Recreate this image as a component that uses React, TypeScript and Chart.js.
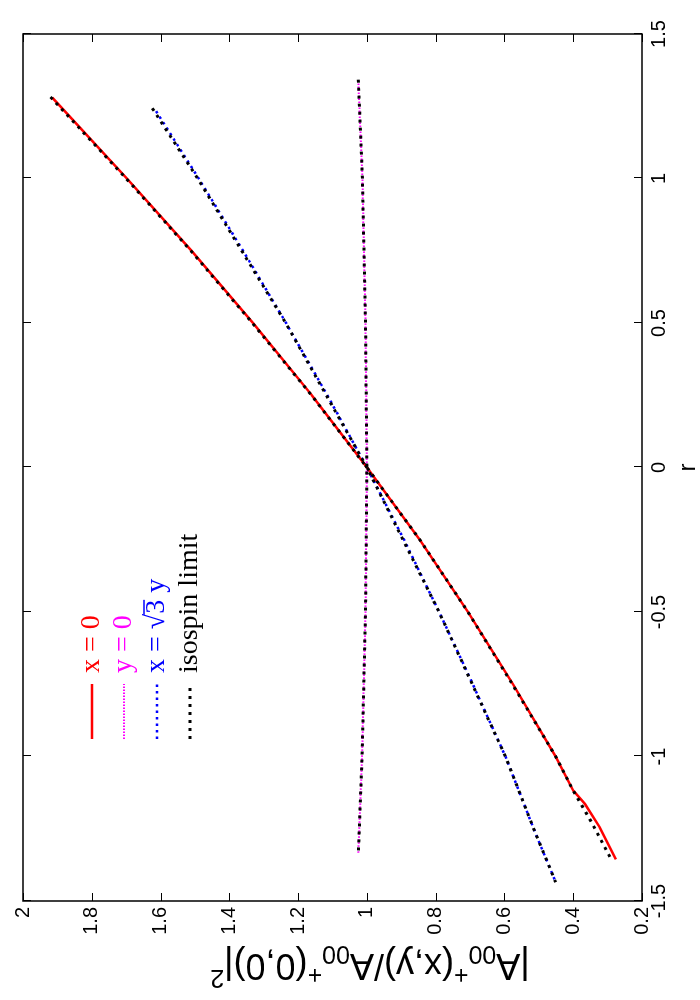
import React, { useEffect, useRef } from "react";
import { Chart, registerables } from "chart.js";

Chart.register(...registerables);

// ---------- data (r on the horizontal axis of the landscape plot) ----------
const rTicks = [-1.5, -1, -0.5, 0, 0.5, 1, 1.5];
const valueTicks = [0.2, 0.4, 0.6, 0.8, 1, 1.2, 1.4, 1.6, 1.8, 2];

const rRed = [1.28, 1.0, 0.75, 0.5, 0.25, 0, -0.25, -0.5, -0.75, -1.0, -1.118, -1.164, -1.245, -1.356];
const valRed = [1.915, 1.698, 1.51, 1.331, 1.16, 1.0, 0.846, 0.706, 0.575, 0.451, 0.4, 0.366, 0.323, 0.276];

const rMag = [1.339, 1.0, 0.5, 0, -0.5, -1.0, -1.336];
const valMag = [1.025, 1.013, 1.004, 1.0, 1.004, 1.014, 1.025];

const rBlue = [1.233, 1.0, 0.75, 0.5, 0.25, 0, -0.25, -0.5, -0.75, -1.0, -1.25, -1.435];
const valBlue = [1.613, 1.489, 1.36, 1.235, 1.115, 1.0, 0.892, 0.79, 0.692, 0.597, 0.515, 0.451];

const rIsoA = [1.282, 1.0, 0.75, 0.5, 0.25, 0, -0.25, -0.5, -0.75, -1.0, -1.118, -1.227, -1.35];
const valIsoA = [1.92, 1.7, 1.512, 1.333, 1.161, 1.0, 0.846, 0.706, 0.577, 0.451, 0.4, 0.347, 0.292];

const rIsoB = [1.243, 1.0, 0.5, 0, -0.5, -1.0, -1.25, -1.435];
const valIsoB = [1.624, 1.492, 1.236, 1.0, 0.79, 0.597, 0.515, 0.451];

const rIsoC = [1.342, 1.0, 0.5, 0, -0.5, -1.0, -1.34];
const valIsoC = [1.025, 1.013, 1.004, 1.0, 1.004, 1.014, 1.025];

const legendLabels = ["x = 0", "y = 0", "x = \u221A3 y", "isospin limit"];
const xTitle = "r";

const FONT_SANS = '"Liberation Sans", Arial, Helvetica, sans-serif';
const FONT_SERIF = '"Liberation Serif", "Times New Roman", serif';

const styles = [
  { color: "#ff0000", width: 2.5, dash: [] as number[] },
  { color: "#ff00ff", width: 2, dash: [1.5, 1.5] },
  { color: "#0000ff", width: 2.5, dash: [2.5, 4] },
  { color: "#000000", width: 3, dash: [3, 5] },
];

function pts(r: number[], v: number[]) {
  return r.map((x, i) => ({ x, y: v[i] }));
}

function ds(label: string, r: number[], v: number[], s: typeof styles[0], order: number) {
  return {
    label,
    data: pts(r, v),
    showLine: true,
    pointRadius: 0,
    borderColor: s.color,
    backgroundColor: s.color,
    borderWidth: s.width,
    borderDash: s.dash,
    borderCapStyle: "butt",
    tension: 0,
    fill: false,
    order,
  };
}

const TICK = 8;

const gnuplotPlugin = {
  id: "gnuplotLook",
  afterDraw(chart: any) {
    const { ctx, chartArea: a, scales } = chart;
    const xs = scales.x;
    const ys = scales.y;
    ctx.save();
    // inward ticks on all four sides
    ctx.strokeStyle = "#000";
    ctx.lineWidth = 1;
    ctx.setLineDash([]);
    ctx.beginPath();
    for (const v of rTicks) {
      const p = Math.round(xs.getPixelForValue(v)) + 0.5;
      ctx.moveTo(p, a.bottom);
      ctx.lineTo(p, a.bottom - TICK);
      ctx.moveTo(p, a.top);
      ctx.lineTo(p, a.top + TICK);
    }
    for (const v of valueTicks) {
      const p = Math.round(ys.getPixelForValue(v)) + 0.5;
      ctx.moveTo(a.left, p);
      ctx.lineTo(a.left + TICK, p);
      ctx.moveTo(a.right, p);
      ctx.lineTo(a.right - TICK, p);
    }
    ctx.stroke();
    // frame
    ctx.lineWidth = 1.5;
    ctx.strokeRect(a.left, a.top, a.right - a.left, a.bottom - a.top);

    // x title
    ctx.fillStyle = "#000";
    ctx.font = `24px ${FONT_SANS}`;
    ctx.textAlign = "center";
    ctx.textBaseline = "middle";
    ctx.fillText(xTitle, (a.left + a.right) / 2, 688);

    // y title with sub/superscripts
    const fs = 36;
    const small = Math.round(fs * 0.7);
    const parts: { t: string; size: number; shift: number }[] = [
      { t: "|A", size: fs, shift: 0 },
      { t: "00", size: small, shift: 0.22 * fs },
      { t: "+", size: small, shift: -0.35 * fs },
      { t: "(x,y)/A", size: fs, shift: 0 },
      { t: "00", size: small, shift: 0.22 * fs },
      { t: "+", size: small, shift: -0.35 * fs },
      { t: "(0,0)|", size: fs, shift: 0 },
      { t: "2", size: small, shift: -0.42 * fs },
    ];
    let total = 0;
    for (const p of parts) {
      ctx.font = `${p.size}px ${FONT_SANS}`;
      total += ctx.measureText(p.t).width;
    }
    ctx.save();
    ctx.translate(33, 370);
    ctx.rotate(-Math.PI / 2);
    ctx.textAlign = "left";
    ctx.textBaseline = "alphabetic";
    let cx = -total / 2;
    for (const p of parts) {
      ctx.font = `${p.size}px ${FONT_SANS}`;
      ctx.fillText(p.t, cx, 0.35 * fs + p.shift);
      cx += ctx.measureText(p.t).width;
    }
    ctx.restore();

    // legend (top-left inside the plot)
    const lx0 = 261;
    const lx1 = 316;
    const tx = 327;
    const rowY = [92, 124, 157, 190];
    ctx.font = `28px ${FONT_SERIF}`;
    ctx.textAlign = "left";
    ctx.textBaseline = "middle";
    legendLabels.forEach((label, i) => {
      const s = styles[i];
      const y = rowY[i];
      ctx.strokeStyle = s.color;
      ctx.lineWidth = s.width;
      ctx.lineCap = "butt";
      ctx.setLineDash(s.dash);
      ctx.beginPath();
      ctx.moveTo(lx0, y);
      ctx.lineTo(lx1, y);
      ctx.stroke();
      ctx.setLineDash([]);
      ctx.fillStyle = s.color;
      const k = label.indexOf("\u221A");
      if (k >= 0) {
        const pre = label.slice(0, k + 1);
        const rad = label.slice(k + 1, k + 2);
        const post = label.slice(k + 2);
        let x = tx;
        ctx.fillText(pre, x, y);
        x += ctx.measureText(pre).width;
        ctx.fillText(rad, x, y);
        const w = ctx.measureText(rad).width;
        ctx.lineWidth = 1.5;
        ctx.strokeStyle = s.color;
        ctx.beginPath();
        ctx.moveTo(x - 1, y - 13);
        ctx.lineTo(x + w, y - 13);
        ctx.stroke();
        x += w;
        ctx.fillText(post, x, y);
      } else {
        ctx.fillText(label, tx, y);
      }
    });
    ctx.restore();
  },
};

export default function App() {
  const ref = useRef<HTMLCanvasElement | null>(null);
  useEffect(() => {
    if (!ref.current) return;
    const chart = new Chart(ref.current, {
      type: "scatter",
      data: {
        datasets: [
          ds(legendLabels[0], rRed, valRed, styles[0], 2) as any,
          ds(legendLabels[1], rMag, valMag, styles[1], 2) as any,
          ds(legendLabels[2], rBlue, valBlue, styles[2], 2) as any,
          ds(legendLabels[3], rIsoA, valIsoA, styles[3], 1) as any,
          ds(legendLabels[3], rIsoB, valIsoB, styles[3], 1) as any,
          ds(legendLabels[3], rIsoC, valIsoC, styles[3], 1) as any,
        ],
      },
      options: {
        responsive: false,
        animation: false,
        devicePixelRatio: 1,
        layout: { padding: { top: 23, right: 34, left: 0, bottom: 0 } },
        plugins: {
          legend: { display: false },
          tooltip: { enabled: false },
        },
        scales: {
          x: {
            type: "linear",
            position: "bottom",
            min: -1.5,
            max: 1.5,
            afterBuildTicks: (s: any) => {
              s.ticks = rTicks.map((v) => ({ value: v }));
            },
            afterFit: (s: any) => {
              s.height = 58;
            },
            grid: { display: false, drawTicks: false },
            border: { display: false },
            ticks: {
              color: "#000",
              padding: 5,
              maxRotation: 0,
              autoSkip: false,
              font: { family: FONT_SANS, size: 20 },
              callback: (v: any) => String(v),
            },
          },
          y: {
            type: "linear",
            position: "left",
            min: 0.2,
            max: 2,
            afterBuildTicks: (s: any) => {
              s.ticks = valueTicks.map((v) => ({ value: v }));
            },
            afterFit: (s: any) => {
              s.width = 99;
            },
            grid: { display: false, drawTicks: false },
            border: { display: false },
            ticks: {
              color: "#000",
              padding: 6,
              autoSkip: false,
              font: { family: FONT_SANS, size: 20 },
              callback: (v: any) => String(Math.round(v * 10) / 10),
            },
          },
        },
      },
      plugins: [gnuplotPlugin],
    });
    return () => chart.destroy();
  }, []);

  return (
    <div
      style={{
        position: "fixed",
        left: 0,
        top: 0,
        width: 700,
        height: 1000,
        overflow: "hidden",
        background: "#fff",
      }}
    >
      <div
        style={{
          position: "absolute",
          left: 0,
          top: 0,
          width: 1000,
          height: 700,
          transformOrigin: "0 0",
          transform: "translate(0px, 1000px) rotate(-90deg)",
        }}
      >
        <canvas ref={ref} width={1000} height={700} style={{ width: 1000, height: 700, display: "block" }} />
      </div>
    </div>
  );
}
